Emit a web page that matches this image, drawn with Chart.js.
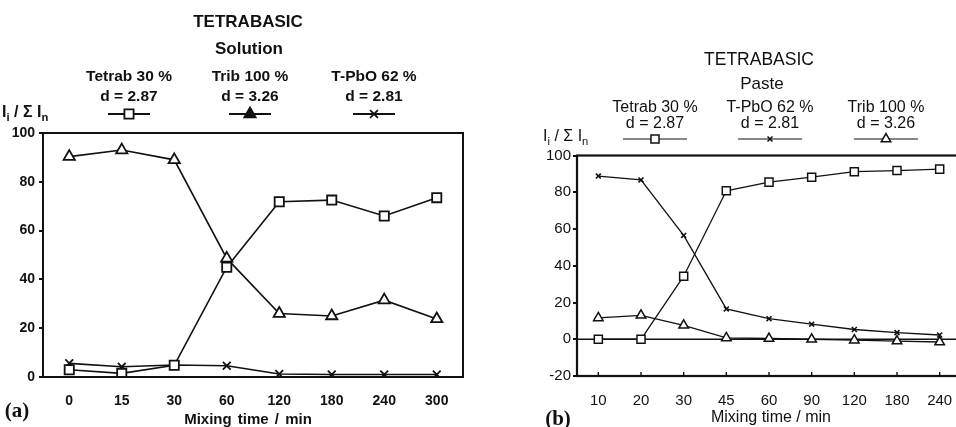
<!DOCTYPE html>
<html>
<head>
<meta charset="utf-8">
<script src="https://cdn.jsdelivr.net/npm/chart.js@4.4.1/dist/chart.umd.min.js"></script>
<style>
html, body { margin: 0; padding: 0; background: #fff; overflow: hidden; }
body { width: 956px; height: 427px; position: relative; }
canvas { position: absolute; top: 0; }
#chartA { left: 0; }
#chartB { left: 478px; }
.t { position: absolute; transform: translate(-50%, -50%); white-space: nowrap; line-height: 1;
     color: #111; font-family: 'Liberation Sans', Arial, sans-serif; }
.l { transform: translate(0, -50%); }
.b { font-weight: bold; }
.tag { font-family: 'Liberation Serif', 'Times New Roman', serif; font-weight: bold; }
sub { font-size: 0.7em; vertical-align: -0.35em; line-height: 0; }
</style>
</head>
<body>
<canvas id="chartA" width="478" height="427"></canvas>
<canvas id="chartB" width="484" height="427"></canvas>

<!-- panel (a) texts -->
<div class="t b" style="left:248px;top:21px;font-size:17px">TETRABASIC</div>
<div class="t b" style="left:249px;top:48px;font-size:17px">Solution</div>
<div class="t b" id="nameA0" style="top:76px;font-size:15.5px"></div>
<div class="t b" id="nameA1" style="top:76px;font-size:15.5px"></div>
<div class="t b" id="nameA2" style="top:76px;font-size:15.5px"></div>
<div class="t b" id="dA0" style="top:96px;font-size:15.5px"></div>
<div class="t b" id="dA1" style="top:96px;font-size:15.5px"></div>
<div class="t b" id="dA2" style="top:96px;font-size:15.5px"></div>
<div class="t l b" style="left:2px;top:112px;font-size:16px">I<sub>i</sub> / Σ I<sub>n</sub></div>
<div class="t b" style="left:248px;top:418px;font-size:15px;word-spacing:2px">Mixing time / min</div>
<div class="t tag" style="left:17px;top:410px;font-size:21px">(a)</div>

<!-- panel (b) texts -->
<div class="t" style="left:759px;top:60px;font-size:17.5px">TETRABASIC</div>
<div class="t" style="left:762px;top:83px;font-size:17px">Paste</div>
<div class="t" id="nameB0" style="top:107px;font-size:16px"></div>
<div class="t" id="nameB1" style="top:107px;font-size:16px"></div>
<div class="t" id="nameB2" style="top:107px;font-size:16px"></div>
<div class="t" id="dB0" style="top:123px;font-size:16px"></div>
<div class="t" id="dB1" style="top:123px;font-size:16px"></div>
<div class="t" id="dB2" style="top:123px;font-size:16px"></div>
<div class="t l" style="left:543px;top:136px;font-size:16px">I<sub>i</sub> / Σ I<sub>n</sub></div>
<div class="t" style="left:771px;top:417px;font-size:16px">Mixing time / min</div>
<div class="t tag" style="left:558px;top:418px;font-size:21px">(b)</div>

<script>
// ---- data, panel (a): solution ----
const timesA = ['0', '15', '30', '60', '120', '180', '240', '300'];
const tetrabA = [3, 1.5, 4.8, 45, 71.8, 72.5, 66, 73.5];
const tribA = [90.3, 93, 89, 48.6, 26, 25, 31.5, 23.8];
const tpboA = [5.6, 4.2, 4.9, 4.6, 1.2, 1, 1, 1];
const namesA = ['Tetrab 30 %', 'Trib 100 %', 'T-PbO 62 %'];
const spacingsA = ['d = 2.87', 'd = 3.26', 'd = 2.81'];

// ---- data, panel (b): paste ----
const timesB = ['10', '20', '30', '45', '60', '90', '120', '180', '240'];
const tetrabB = [0, 0, 34.3, 80.8, 85.5, 88.2, 91.2, 91.8, 92.6];
const tpboB = [88.8, 86.7, 56.5, 16.5, 11.2, 8.2, 5.3, 3.6, 2.3];
const tribB = [11.6, 13, 7.6, 0.7, 0.4, 0, -0.5, -1, -1.5];
const namesB = ['Tetrab 30 %', 'T-PbO 62 %', 'Trib 100 %'];
const spacingsB = ['d = 2.87', 'd = 2.81', 'd = 3.26'];

const INK = '#111';
const SANS = "'Liberation Sans', Arial, sans-serif";

// legend label placement (page x of each entry centre)
const legendXA = [129, 250, 374];
const legendXB = [655, 770, 886];
legendXA.forEach((x, i) => {
    for (const [id, txt] of [['nameA' + i, namesA[i]], ['dA' + i, spacingsA[i]]]) {
        const el = document.getElementById(id);
        el.textContent = txt;
        el.style.left = x + 'px';
    }
});
legendXB.forEach((x, i) => {
    for (const [id, txt] of [['nameB' + i, namesB[i]], ['dB' + i, spacingsB[i]]]) {
        const el = document.getElementById(id);
        el.textContent = txt;
        el.style.left = x + 'px';
    }
});

function drawMarker(ctx, style, r, x, y, fill, lw) {
    ctx.save();
    ctx.lineWidth = lw;
    ctx.strokeStyle = INK;
    ctx.fillStyle = fill;
    ctx.beginPath();
    if (style === 'rect') {
        const s = r * Math.SQRT1_2;
        ctx.rect(x - s, y - s, 2 * s, 2 * s);
        ctx.fill(); ctx.stroke();
    } else if (style === 'triangle') {
        for (let k = 0; k < 3; k++) {
            const a = k * 2 * Math.PI / 3;
            const px = x + Math.sin(a) * r, py = y - Math.cos(a) * r;
            k ? ctx.lineTo(px, py) : ctx.moveTo(px, py);
        }
        ctx.closePath();
        ctx.fill(); ctx.stroke();
    } else {
        const s = r * Math.SQRT1_2;
        ctx.moveTo(x - s, y - s); ctx.lineTo(x + s, y + s);
        ctx.moveTo(x - s, y + s); ctx.lineTo(x + s, y - s);
        ctx.stroke();
    }
    ctx.restore();
}

// frame, zero line, inner ticks and the line-sample legend
function panelPlugin(cfg) {
    return {
        id: 'panel',
        beforeDatasetsDraw(chart) {
            if (!cfg.zeroLine) return;
            const { ctx, chartArea: a, scales: { y } } = chart;
            const y0 = y.getPixelForValue(0);
            ctx.save();
            ctx.strokeStyle = INK;
            ctx.lineWidth = 1.6;
            ctx.beginPath();
            ctx.moveTo(a.left, y0); ctx.lineTo(a.right, y0);
            ctx.stroke();
            ctx.restore();
        },
        afterDatasetsDraw(chart) {
            const { ctx, chartArea: a, scales: { x } } = chart;
            ctx.save();
            ctx.strokeStyle = INK;
            ctx.lineWidth = cfg.frameWidth;
            ctx.strokeRect(a.left, a.top, a.right - a.left, a.bottom - a.top);
            if (cfg.innerTicks) {
                ctx.lineWidth = 1.4;
                ctx.beginPath();
                chart.data.labels.forEach((_, i) => {
                    const px = x.getPixelForValue(i);
                    ctx.moveTo(px, a.bottom); ctx.lineTo(px, a.bottom - 4);
                });
                ctx.stroke();
            }
            // legend samples
            cfg.legendX.forEach((cx, i) => {
                const ds = chart.data.datasets[i];
                ctx.lineWidth = cfg.legendLine;
                ctx.beginPath();
                ctx.moveTo(cx - cfg.legendHalf, cfg.legendY);
                ctx.lineTo(cx + cfg.legendHalf, cfg.legendY);
                ctx.stroke();
                drawMarker(ctx, ds.pointStyle, ds.pointRadius, cx, cfg.legendY,
                    cfg.legendFill[i], ds.pointBorderWidth);
            });
            ctx.restore();
        }
    };
}

function series(label, data, style, radius, lw, pbw) {
    return {
        label: label, data: data,
        borderColor: INK, borderWidth: lw,
        pointStyle: style, pointRadius: radius, pointHoverRadius: radius,
        pointBorderColor: INK, pointBackgroundColor: '#fff', pointBorderWidth: pbw,
        tension: 0, fill: false
    };
}

// x axis: fixed height and no extra room kept for the end labels
function fitX(s) {
    s.height = 30;
    s.paddingLeft = 0;
    s.paddingRight = 0;
}

// ---- panel (a) ----
new Chart(document.getElementById('chartA'), {
    type: 'line',
    data: {
        labels: timesA,
        datasets: [
            series(namesA[0], tetrabA, 'rect', 6.5, 1.6, 1.8),
            series(namesA[1], tribA, 'triangle', 6.5, 1.6, 1.8),
            series(namesA[2], tpboA, 'crossRot', 5.5, 1.6, 1.8)
        ]
    },
    options: {
        responsive: false,
        animation: false,
        layout: { autoPadding: false, padding: { left: 5, right: 15, top: 133, bottom: 20 } },
        plugins: { legend: { display: false }, tooltip: { enabled: false } },
        scales: {
            x: {
                offset: true,
                grid: { display: false },
                border: { display: false },
                ticks: { color: INK, font: { family: SANS, size: 14, weight: 'bold' }, padding: 8, maxRotation: 0, autoSkip: false },
                afterFit: fitX
            },
            y: {
                min: 0, max: 100,
                grid: { drawOnChartArea: false, drawTicks: true, tickLength: 4, color: INK, lineWidth: 2 },
                border: { display: false },
                ticks: { stepSize: 20, color: INK, font: { family: SANS, size: 14, weight: 'bold' }, padding: 4 },
                afterFit(s) { s.width = 38; }
            }
        }
    },
    plugins: [panelPlugin({
        frameWidth: 2, zeroLine: false, innerTicks: false,
        legendX: legendXA, legendY: 114, legendHalf: 21, legendLine: 2,
        legendFill: ['#fff', INK, '#fff']
    })]
});

// ---- panel (b) ----
new Chart(document.getElementById('chartB'), {
    type: 'line',
    data: {
        labels: timesB,
        datasets: [
            series(namesB[0], tetrabB, 'rect', 5.7, 1.3, 1.5),
            series(namesB[1], tpboB, 'crossRot', 3.5, 1.3, 1.6),
            series(namesB[2], tribB, 'triangle', 5.5, 1.3, 1.5)
        ]
    },
    options: {
        responsive: false,
        animation: false,
        layout: { autoPadding: false, padding: { left: 59, right: 1, top: 155.5, bottom: 21 } },
        plugins: { legend: { display: false }, tooltip: { enabled: false } },
        scales: {
            x: {
                offset: true,
                grid: { display: false },
                border: { display: false },
                ticks: { color: INK, font: { family: SANS, size: 15 }, padding: 8, maxRotation: 0, autoSkip: false },
                afterFit: fitX
            },
            y: {
                min: -20, max: 100,
                grid: { drawOnChartArea: false, drawTicks: true, tickLength: 4, color: INK, lineWidth: 2 },
                border: { display: false },
                ticks: { stepSize: 20, color: INK, font: { family: SANS, size: 15 }, padding: 2 },
                afterFit(s) { s.width = 40; }
            }
        }
    },
    plugins: [panelPlugin({
        frameWidth: 2.2, zeroLine: true, innerTicks: true,
        legendX: legendXB.map(x => x - 478), legendY: 139, legendHalf: 32, legendLine: 1.2,
        legendFill: ['#fff', '#fff', '#fff']
    })]
});
</script>
</body>
</html>
